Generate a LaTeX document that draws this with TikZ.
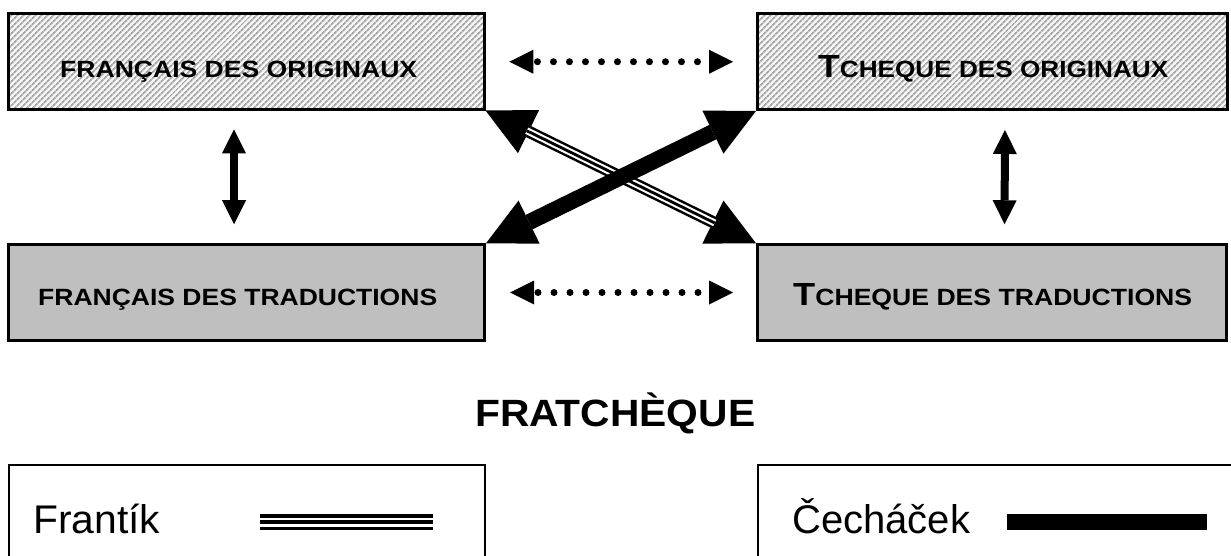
\documentclass[tikz,border=0pt]{standalone}
\usepackage{fontspec}
\setmainfont{Liberation Sans}
\usepackage{graphicx}
\usetikzlibrary{arrows.meta,patterns.meta,calc}
\newcommand{\boxfont}{\fontsize{23.5}{23.5}\selectfont\bfseries}
\newcommand{\bigT}{{\fontsize{32}{32}\selectfont\bfseries T}}
\begin{document}
\begin{tikzpicture}[x=1pt,y=-1pt,
  bigtip/.tip={Triangle[length=48pt,width=48pt,line width=0pt]},
  smalltip/.tip={Triangle[length=24pt,width=24pt,line width=0pt]},
  origbox/.style={draw=black,line width=3pt,inner sep=0pt,minimum height=95.5pt,
    preaction={fill=gray!8},pattern={Lines[angle=45,distance=4pt,line width=1.9pt]},pattern color=gray!70},
  tradbox/.style={draw=black,line width=3pt,inner sep=0pt,minimum height=95.5pt,fill=gray!50},
  legbox/.style={draw=black,line width=2pt,inner sep=0pt,minimum height=200pt,fill=white},
  boxtext/.style={anchor=base west,inner sep=0pt},
  dotarrow/.style={line width=7pt,line cap=round,dash pattern=on 0pt off 16pt,dash phase=12pt,
    smalltip-smalltip,shorten <=24pt,shorten >=23pt},
  varrow/.style={line width=8pt,smalltip-smalltip,shorten <=19pt,shorten >=19pt},
  thickarrow/.style={line width=16pt,bigtip-bigtip},
  triplebase/.style={line width=12pt,bigtip-bigtip},
  triplewhite/.style={draw=white,line width=7pt,shorten <=46pt,shorten >=46pt},
  triplecore/.style={draw=black,line width=2.8pt,shorten <=46pt,shorten >=46pt},
]
\clip (0,0) rectangle (1231,556);
\fill[white] (0,0) rectangle (1231,556);

% boxes
\node[origbox,minimum width=476pt] (tl) at (246.5,61.75) {};
\node[origbox,minimum width=470pt] (tr) at (992.5,61.75) {};
\node[tradbox,minimum width=476pt] (bl) at (246.5,292.5) {};
\node[tradbox,minimum width=469pt] (br) at (992,292.5) {};

% box texts
\node[boxtext] (tlt) at (60,78) {\resizebox{357pt}{\height}{\boxfont FRANÇAIS DES ORIGINAUX}};
\node[boxtext] (trt) at (818,78) {\resizebox{350pt}{\height}{\bigT\boxfont CHEQUE DES ORIGINAUX}};
\node[boxtext] (blt) at (38,305) {\resizebox{399pt}{\height}{\boxfont FRANÇAIS DES TRADUCTIONS}};
\node[boxtext] (brt) at (793,305) {\resizebox{399pt}{\height}{\bigT\boxfont CHEQUE DES TRADUCTIONS}};

% horizontal dotted arrows
\draw[dotarrow] (tl.east) -- (tr.west);
\draw[dotarrow] (bl.east) -- (br.west);

% vertical arrows
\draw[varrow] ([xshift=-12.5pt]tl.south) -- ([xshift=-12.5pt]bl.north);
\draw[varrow] ([xshift=12.5pt]tr.south) -- ([xshift=12.5pt]br.north);

% crossing arrows
\draw[triplebase] (tl.south east) -- (br.north west);
\draw[triplewhite] (tl.south east) -- (br.north west);
\draw[triplecore] (tl.south east) -- (br.north west);
\draw[thickarrow] (bl.north east) -- (tr.south west);

% title
\node[boxtext] (title) at (475,426) {\resizebox{280pt}{\height}{\fontsize{38}{38}\selectfont\bfseries FRATCHÈQUE}};

% legend
\node[legbox,minimum width=476pt,anchor=north west] (legf) at (8,464) {};
\node[legbox,minimum width=500pt,anchor=north west] (legc) at (757,464) {};
\node[boxtext] (legft) at (33,533) {\resizebox{127pt}{\height}{\fontsize{40}{40}\selectfont Frantík}};
\node[boxtext] (legct) at (792,533) {\resizebox{178pt}{\height}{\fontsize{40}{40}\selectfont Čecháček}};
\coordinate (fa) at (260,522);
\coordinate (fb) at (433,522);
\coordinate (ca) at (1007,522);
\coordinate (cb) at (1207,522);
\draw[line width=16pt] (fa) -- (fb);
\draw[white,line width=9pt] (fa) -- (fb);
\draw[line width=4pt] (fa) -- (fb);
\draw[line width=16pt] (ca) -- (cb);
\end{tikzpicture}
\end{document}
